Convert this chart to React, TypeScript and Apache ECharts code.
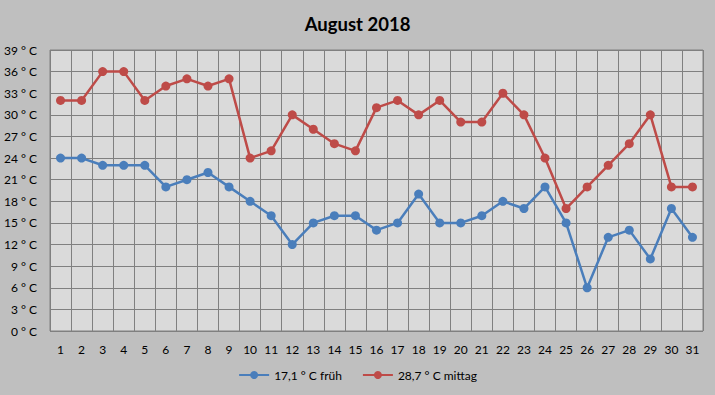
import React, { useEffect, useRef } from "react";
import * as echarts from "echarts";

const days = Array.from({ length: 31 }, (_, i) => String(i + 1));
const fruehValues = [24, 24, 23, 23, 23, 20, 21, 22, 20, 18, 16, 12, 15, 16, 16, 14, 15, 19, 15, 15, 16, 18, 17, 20, 15, 6, 13, 14, 10, 17, 13];
const mittagValues = [32, 32, 36, 36, 32, 34, 35, 34, 35, 24, 25, 30, 28, 26, 25, 31, 32, 30, 32, 29, 29, 33, 30, 24, 17, 20, 23, 26, 30, 20, 20];
const seriesNames = ["17,1 ° C früh", "28,7 ° C mittag"];
const titleText = "August 2018";

const FONT = "Lato, 'Open Sans', sans-serif";

export default function App() {
  const ref = useRef<HTMLDivElement>(null);
  useEffect(() => {
    if (!ref.current) return;
    const chart = echarts.init(ref.current, null, { renderer: "svg" });
    chart.setOption({
      animation: false,
      backgroundColor: "#BFBFBF",
      title: {
        text: titleText,
        left: "center",
        top: 9,
        textStyle: { fontFamily: FONT, fontSize: 18.5, fontWeight: "bold", color: "#000" },
      },
      legend: {
        bottom: 9,
        left: "center",
        itemWidth: 30,
        itemHeight: 10,
        itemGap: 20,
        textStyle: { fontFamily: FONT, fontSize: 12, color: "#000" },
        data: seriesNames,
      },
      grid: {
        left: 50,
        right: 12,
        top: 50,
        bottom: 64,
        show: true,
        backgroundColor: "#DADADA",
        borderColor: "#808080",
        borderWidth: 1,
      },
      xAxis: {
        type: "category",
        data: days,
        boundaryGap: true,
        axisLine: { show: false },
        axisTick: { show: false },
        axisLabel: { fontFamily: FONT, fontSize: 12, color: "#000", margin: 12, interval: 0 },
        splitLine: { show: true, interval: 0, lineStyle: { color: "#808080", width: 1 } },
      },
      yAxis: {
        type: "value",
        min: 0,
        max: 39,
        interval: 3,
        axisLine: { show: false },
        axisTick: { show: false },
        axisLabel: {
          fontFamily: FONT,
          fontSize: 12,
          color: "#000",
          margin: 13,
          formatter: (v: number) => `${v} ° C`,
        },
        splitLine: { show: true, lineStyle: { color: "#808080", width: 1 } },
      },
      series: [
        {
          name: seriesNames[0],
          type: "line",
          data: fruehValues,
          symbol: "circle",
          symbolSize: 9,
          itemStyle: { color: "#4A7EBB" },
          lineStyle: { color: "#4A7EBB", width: 2.5 },
        },
        {
          name: seriesNames[1],
          type: "line",
          data: mittagValues,
          symbol: "circle",
          symbolSize: 9,
          itemStyle: { color: "#BE4B48" },
          lineStyle: { color: "#BE4B48", width: 2.5 },
        },
      ],
    });
    return () => chart.dispose();
  }, []);
  return <div ref={ref} style={{ width: 715, height: 395, position: "absolute", left: 0, top: 0 }} />;
}
